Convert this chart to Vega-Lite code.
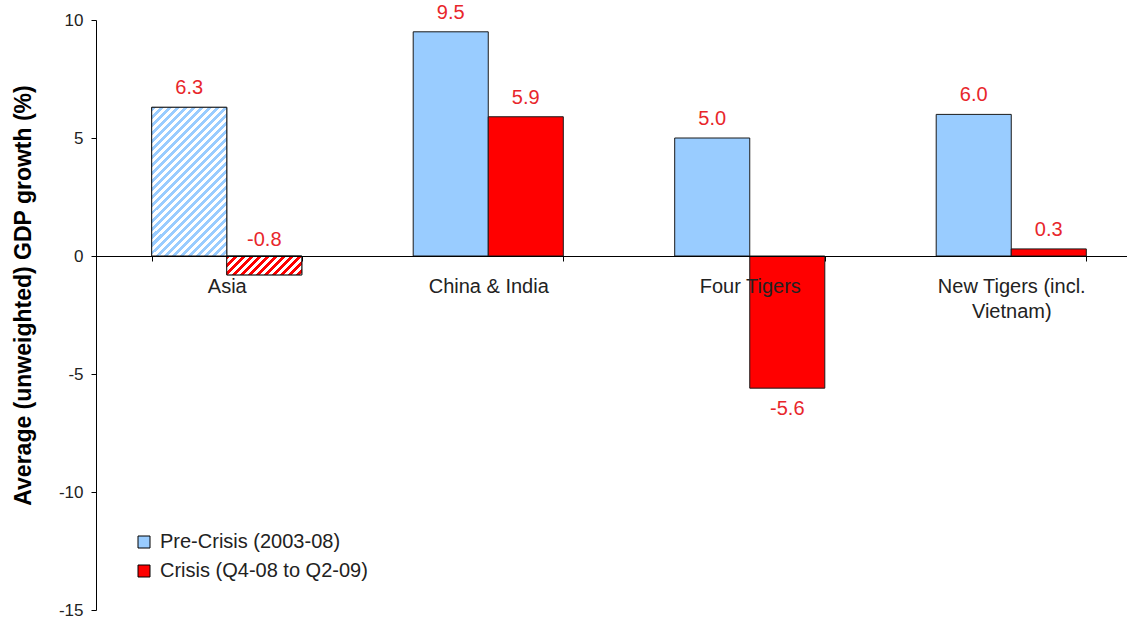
{
  "$schema": "https://vega.github.io/schema/vega-lite/v6.json",
  "width": 1031,
  "height": 590,
  "autosize": {"type": "none"},
  "padding": {"left": 96, "top": 20, "right": 0, "bottom": 10},
  "background": "#ffffff",
  "config": {
    "view": {"stroke": null},
    "font": "Liberation Sans",
    "locale": {
      "number": {"decimal": ".", "thousands": ",", "grouping": [3], "currency": ["$", ""], "minus": "-"}
    }
  },
  "data": {
    "values": [
      {"region": "Asia", "series": "Pre-Crisis (2003-08)", "value": 6.3},
      {"region": "Asia", "series": "Crisis (Q4-08 to Q2-09)", "value": -0.8},
      {"region": "China & India", "series": "Pre-Crisis (2003-08)", "value": 9.5},
      {"region": "China & India", "series": "Crisis (Q4-08 to Q2-09)", "value": 5.9},
      {"region": "Four Tigers", "series": "Pre-Crisis (2003-08)", "value": 5.0},
      {"region": "Four Tigers", "series": "Crisis (Q4-08 to Q2-09)", "value": -5.6},
      {"region": "New Tigers (incl. Vietnam)", "series": "Pre-Crisis (2003-08)", "value": 6.0},
      {"region": "New Tigers (incl. Vietnam)", "series": "Crisis (Q4-08 to Q2-09)", "value": 0.3}
    ]
  },
  "encoding": {
    "x": {
      "field": "region",
      "type": "nominal",
      "sort": ["Asia", "China & India", "Four Tigers", "New Tigers (incl. Vietnam)"],
      "scale": {"range": [0, 1046], "paddingInner": 0.426, "paddingOuter": 0.213},
      "axis": {
        "title": null,
        "orient": "bottom",
        "offset": -354,
        "zindex": 1,
        "tickBand": "extent",
        "tickSize": 5,
        "tickColor": "#000",
        "domainColor": "#000",
        "labelAngle": 0,
        "labelFontSize": 20,
        "labelColor": "#222",
        "labelPadding": 15,
        "labelLineHeight": 25,
        "labelLimit": 300,
        "labelExpr": "datum.label == 'New Tigers (incl. Vietnam)' ? ['New Tigers (incl.', 'Vietnam)'] : datum.label"
      }
    },
    "xOffset": {
      "field": "series",
      "type": "nominal",
      "sort": ["Pre-Crisis (2003-08)", "Crisis (Q4-08 to Q2-09)"],
      "scale": {"paddingInner": 0, "paddingOuter": 0}
    }
  },
  "layer": [
    {
      "mark": {"type": "bar", "stroke": "#1a1a1a", "strokeWidth": 1},
      "encoding": {
        "y": {
          "field": "value",
          "type": "quantitative",
          "scale": {"domain": [-15, 10], "nice": false},
          "axis": {
            "title": "Average (unweighted) GDP growth (%)",
            "values": [-15, -10, -5, 0, 5, 10],
            "grid": false,
            "tickSize": 5,
            "tickColor": "#000",
            "domainColor": "#000",
            "labelFontSize": 17,
            "labelColor": "#222",
            "labelPadding": 8,
            "titleFontSize": 23,
            "titleFontWeight": "bold",
            "titleColor": "#000",
            "titleAngle": 270,
            "titleAlign": "center",
            "titleBaseline": "middle",
            "titleX": -73,
            "titleY": 275
          }
        },
        "color": {
          "field": "series",
          "type": "nominal",
          "sort": ["Pre-Crisis (2003-08)", "Crisis (Q4-08 to Q2-09)"],
          "scale": {"range": ["#99ccff", "#ff0000"]},
          "legend": {
            "title": null,
            "orient": "none",
            "legendX": 38,
            "legendY": 512,
            "symbolType": "square",
            "symbolSize": 144,
            "symbolStrokeColor": "#000",
            "symbolStrokeWidth": 1,
            "labelFontSize": 20,
            "labelColor": "#222",
            "labelOffset": 6,
            "labelLimit": 400,
            "rowPadding": 9
          }
        }
      }
    },
    {
      "transform": [{"filter": "datum.region == 'Asia' && datum.value > 0"}],
      "mark": {
        "type": "bar",
        "stroke": "#1a1a1a",
        "strokeWidth": 1,
        "fill": {
          "gradient": "linear", "x1": 0, "y1": 0, "x2": 0.6057, "y2": 1.2009,
          "stops": [
            {"offset": 0, "color": "#99ccff"}, {"offset": 0.0179, "color": "#99ccff"}, {"offset": 0.0179, "color": "#ffffff"}, {"offset": 0.0357, "color": "#ffffff"},
            {"offset": 0.0357, "color": "#99ccff"}, {"offset": 0.0536, "color": "#99ccff"}, {"offset": 0.0536, "color": "#ffffff"}, {"offset": 0.0714, "color": "#ffffff"},
            {"offset": 0.0714, "color": "#99ccff"}, {"offset": 0.0893, "color": "#99ccff"}, {"offset": 0.0893, "color": "#ffffff"}, {"offset": 0.1071, "color": "#ffffff"},
            {"offset": 0.1071, "color": "#99ccff"}, {"offset": 0.125, "color": "#99ccff"}, {"offset": 0.125, "color": "#ffffff"}, {"offset": 0.1429, "color": "#ffffff"},
            {"offset": 0.1429, "color": "#99ccff"}, {"offset": 0.1607, "color": "#99ccff"}, {"offset": 0.1607, "color": "#ffffff"}, {"offset": 0.1786, "color": "#ffffff"},
            {"offset": 0.1786, "color": "#99ccff"}, {"offset": 0.1964, "color": "#99ccff"}, {"offset": 0.1964, "color": "#ffffff"}, {"offset": 0.2143, "color": "#ffffff"},
            {"offset": 0.2143, "color": "#99ccff"}, {"offset": 0.2321, "color": "#99ccff"}, {"offset": 0.2321, "color": "#ffffff"}, {"offset": 0.25, "color": "#ffffff"},
            {"offset": 0.25, "color": "#99ccff"}, {"offset": 0.2679, "color": "#99ccff"}, {"offset": 0.2679, "color": "#ffffff"}, {"offset": 0.2857, "color": "#ffffff"},
            {"offset": 0.2857, "color": "#99ccff"}, {"offset": 0.3036, "color": "#99ccff"}, {"offset": 0.3036, "color": "#ffffff"}, {"offset": 0.3214, "color": "#ffffff"},
            {"offset": 0.3214, "color": "#99ccff"}, {"offset": 0.3393, "color": "#99ccff"}, {"offset": 0.3393, "color": "#ffffff"}, {"offset": 0.3571, "color": "#ffffff"},
            {"offset": 0.3571, "color": "#99ccff"}, {"offset": 0.375, "color": "#99ccff"}, {"offset": 0.375, "color": "#ffffff"}, {"offset": 0.3929, "color": "#ffffff"},
            {"offset": 0.3929, "color": "#99ccff"}, {"offset": 0.4107, "color": "#99ccff"}, {"offset": 0.4107, "color": "#ffffff"}, {"offset": 0.4286, "color": "#ffffff"},
            {"offset": 0.4286, "color": "#99ccff"}, {"offset": 0.4464, "color": "#99ccff"}, {"offset": 0.4464, "color": "#ffffff"}, {"offset": 0.4643, "color": "#ffffff"},
            {"offset": 0.4643, "color": "#99ccff"}, {"offset": 0.4821, "color": "#99ccff"}, {"offset": 0.4821, "color": "#ffffff"}, {"offset": 0.5, "color": "#ffffff"},
            {"offset": 0.5, "color": "#99ccff"}, {"offset": 0.5179, "color": "#99ccff"}, {"offset": 0.5179, "color": "#ffffff"}, {"offset": 0.5357, "color": "#ffffff"},
            {"offset": 0.5357, "color": "#99ccff"}, {"offset": 0.5536, "color": "#99ccff"}, {"offset": 0.5536, "color": "#ffffff"}, {"offset": 0.5714, "color": "#ffffff"},
            {"offset": 0.5714, "color": "#99ccff"}, {"offset": 0.5893, "color": "#99ccff"}, {"offset": 0.5893, "color": "#ffffff"}, {"offset": 0.6071, "color": "#ffffff"},
            {"offset": 0.6071, "color": "#99ccff"}, {"offset": 0.625, "color": "#99ccff"}, {"offset": 0.625, "color": "#ffffff"}, {"offset": 0.6429, "color": "#ffffff"},
            {"offset": 0.6429, "color": "#99ccff"}, {"offset": 0.6607, "color": "#99ccff"}, {"offset": 0.6607, "color": "#ffffff"}, {"offset": 0.6786, "color": "#ffffff"},
            {"offset": 0.6786, "color": "#99ccff"}, {"offset": 0.6964, "color": "#99ccff"}, {"offset": 0.6964, "color": "#ffffff"}, {"offset": 0.7143, "color": "#ffffff"},
            {"offset": 0.7143, "color": "#99ccff"}, {"offset": 0.7321, "color": "#99ccff"}, {"offset": 0.7321, "color": "#ffffff"}, {"offset": 0.75, "color": "#ffffff"},
            {"offset": 0.75, "color": "#99ccff"}, {"offset": 0.7679, "color": "#99ccff"}, {"offset": 0.7679, "color": "#ffffff"}, {"offset": 0.7857, "color": "#ffffff"},
            {"offset": 0.7857, "color": "#99ccff"}, {"offset": 0.8036, "color": "#99ccff"}, {"offset": 0.8036, "color": "#ffffff"}, {"offset": 0.8214, "color": "#ffffff"},
            {"offset": 0.8214, "color": "#99ccff"}, {"offset": 0.8393, "color": "#99ccff"}, {"offset": 0.8393, "color": "#ffffff"}, {"offset": 0.8571, "color": "#ffffff"},
            {"offset": 0.8571, "color": "#99ccff"}, {"offset": 0.875, "color": "#99ccff"}, {"offset": 0.875, "color": "#ffffff"}, {"offset": 0.8929, "color": "#ffffff"},
            {"offset": 0.8929, "color": "#99ccff"}, {"offset": 0.9107, "color": "#99ccff"}, {"offset": 0.9107, "color": "#ffffff"}, {"offset": 0.9286, "color": "#ffffff"},
            {"offset": 0.9286, "color": "#99ccff"}, {"offset": 0.9464, "color": "#99ccff"}, {"offset": 0.9464, "color": "#ffffff"}, {"offset": 0.9643, "color": "#ffffff"},
            {"offset": 0.9643, "color": "#99ccff"}, {"offset": 0.9821, "color": "#99ccff"}, {"offset": 0.9821, "color": "#ffffff"}, {"offset": 1, "color": "#ffffff"}
          ]
        }
      },
      "encoding": {"y": {"field": "value", "type": "quantitative"}}
    },
    {
      "transform": [{"filter": "datum.region == 'Asia' && datum.value < 0"}],
      "mark": {
        "type": "bar",
        "stroke": "#1a1a1a",
        "strokeWidth": 1,
        "fill": {
          "gradient": "linear", "x1": 0, "y1": 0, "x2": 1.2036, "y2": 0.3033,
          "stops": [
            {"offset": 0, "color": "#ff0000"}, {"offset": 0.0417, "color": "#ff0000"}, {"offset": 0.0417, "color": "#ffffff"}, {"offset": 0.0833, "color": "#ffffff"},
            {"offset": 0.0833, "color": "#ff0000"}, {"offset": 0.125, "color": "#ff0000"}, {"offset": 0.125, "color": "#ffffff"}, {"offset": 0.1667, "color": "#ffffff"},
            {"offset": 0.1667, "color": "#ff0000"}, {"offset": 0.2083, "color": "#ff0000"}, {"offset": 0.2083, "color": "#ffffff"}, {"offset": 0.25, "color": "#ffffff"},
            {"offset": 0.25, "color": "#ff0000"}, {"offset": 0.2917, "color": "#ff0000"}, {"offset": 0.2917, "color": "#ffffff"}, {"offset": 0.3333, "color": "#ffffff"},
            {"offset": 0.3333, "color": "#ff0000"}, {"offset": 0.375, "color": "#ff0000"}, {"offset": 0.375, "color": "#ffffff"}, {"offset": 0.4167, "color": "#ffffff"},
            {"offset": 0.4167, "color": "#ff0000"}, {"offset": 0.4583, "color": "#ff0000"}, {"offset": 0.4583, "color": "#ffffff"}, {"offset": 0.5, "color": "#ffffff"},
            {"offset": 0.5, "color": "#ff0000"}, {"offset": 0.5417, "color": "#ff0000"}, {"offset": 0.5417, "color": "#ffffff"}, {"offset": 0.5833, "color": "#ffffff"},
            {"offset": 0.5833, "color": "#ff0000"}, {"offset": 0.625, "color": "#ff0000"}, {"offset": 0.625, "color": "#ffffff"}, {"offset": 0.6667, "color": "#ffffff"},
            {"offset": 0.6667, "color": "#ff0000"}, {"offset": 0.7083, "color": "#ff0000"}, {"offset": 0.7083, "color": "#ffffff"}, {"offset": 0.75, "color": "#ffffff"},
            {"offset": 0.75, "color": "#ff0000"}, {"offset": 0.7917, "color": "#ff0000"}, {"offset": 0.7917, "color": "#ffffff"}, {"offset": 0.8333, "color": "#ffffff"},
            {"offset": 0.8333, "color": "#ff0000"}, {"offset": 0.875, "color": "#ff0000"}, {"offset": 0.875, "color": "#ffffff"}, {"offset": 0.9167, "color": "#ffffff"},
            {"offset": 0.9167, "color": "#ff0000"}, {"offset": 0.9583, "color": "#ff0000"}, {"offset": 0.9583, "color": "#ffffff"}, {"offset": 1, "color": "#ffffff"}
          ]
        }
      },
      "encoding": {"y": {"field": "value", "type": "quantitative"}}
    },
    {
      "transform": [{"filter": "datum.value > 0"}],
      "mark": {"type": "text", "fontSize": 20, "color": "#e8262b", "baseline": "alphabetic", "dy": -13},
      "encoding": {
        "y": {"field": "value", "type": "quantitative"},
        "text": {"field": "value", "type": "quantitative", "format": ".1f"}
      }
    },
    {
      "transform": [{"filter": "datum.value < 0 && datum.value > -1"}],
      "mark": {"type": "text", "fontSize": 20, "color": "#e8262b", "baseline": "alphabetic", "dy": -10},
      "encoding": {
        "y": {"datum": 0, "type": "quantitative"},
        "text": {"field": "value", "type": "quantitative", "format": ".1f"}
      }
    },
    {
      "transform": [{"filter": "datum.value <= -1"}],
      "mark": {"type": "text", "fontSize": 20, "color": "#e8262b", "baseline": "alphabetic", "dy": 27},
      "encoding": {
        "y": {"field": "value", "type": "quantitative"},
        "text": {"field": "value", "type": "quantitative", "format": ".1f"}
      }
    }
  ]
}
